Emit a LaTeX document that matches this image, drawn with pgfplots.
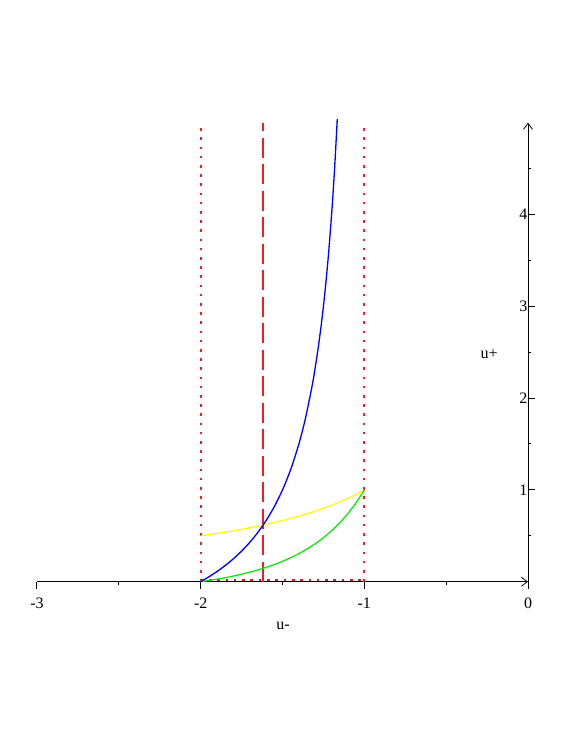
\documentclass[border=0pt]{standalone}
\usepackage{pgfplots}
\pgfplotsset{compat=1.18}
\usepackage{fontspec}
\setmainfont{Liberation Serif}
\usetikzlibrary{arrows.meta}
\definecolor{mblue}{RGB}{0,0,255}
\definecolor{myellow}{RGB}{255,255,0}
\definecolor{mgreen}{RGB}{0,235,0}
\definecolor{mred}{RGB}{240,30,30}
\definecolor{mbrown}{RGB}{190,40,40}
\begin{document}
\begin{tikzpicture}[font=\fontsize{16}{19}\selectfont]
\begin{axis}[
  scale only axis,
  width=491pt, height=459pt,
  xmin=-3, xmax=0, ymin=0, ymax=5,
  axis lines=middle,
  hide obscured x ticks=false,
  hide obscured y ticks=false,
  axis line style={line width=1pt},
  x axis line style={-{Straight Barb[length=6pt,width=9pt,line width=0.8pt]}},
  y axis line style={-{Straight Barb[length=6pt,width=9pt,line width=0.8pt]}},
  xtick={-3,-2,-1,0},
  xticklabels={-3,-2,-1,0},
  minor xtick={-2.5,-1.5,-0.5},
  ytick={1,2,3,4},
  minor ytick={0.5,1.5,2.5,3.5,4.5},
  xtick align=outside,
  ytick align=inside,
  major tick length=7pt,
  minor tick length=3pt,
  tick style={line width=1pt, black},
  /pgf/number format/assume math mode=true,
  xticklabel style={yshift=-6pt},
  yticklabel style={xshift=3pt},
  clip=false,
]
\coordinate (SW) at (rel axis cs:0,0);
% vertical reference lines
\addplot[mred, line width=1.8pt, dash pattern=on 2.6pt off 6.6pt] coordinates {(-2,0) (-2,4.95)};
\addplot[mred, line width=1.8pt, dash pattern=on 2.6pt off 6.6pt] coordinates {(-1,0) (-1,4.95)};
\addplot[mred, line width=2pt, dash pattern=on 20pt off 6.5pt] coordinates {(-1.618,0) (-1.618,5)};
\addplot[mbrown, line width=1.6pt, dash pattern=on 2.6pt off 5.7pt] coordinates {(-2,0.02) (-1,0.02)};
% yellow
\addplot[myellow, line width=1.2pt, smooth] coordinates {
(-2,0.5) (-1.95,0.51282) (-1.9,0.52632) (-1.85,0.54054) (-1.8,0.55556)
(-1.75,0.57143) (-1.7,0.58824) (-1.65,0.60606) (-1.6,0.625) (-1.55,0.64516)
(-1.5,0.66667) (-1.45,0.68966) (-1.4,0.71429) (-1.35,0.74074) (-1.3,0.76923)
(-1.25,0.8) (-1.2,0.83333) (-1.15,0.86957) (-1.1,0.90909) (-1.05,0.95238) (-1,1)};
% green
\addplot[mgreen, line width=1.2pt, smooth] coordinates {
(-2,0) (-1.95,0.01315) (-1.9,0.0277) (-1.85,0.04383) (-1.8,0.06173)
(-1.75,0.08163) (-1.7,0.10381) (-1.65,0.12856) (-1.6,0.15625) (-1.55,0.1873)
(-1.5,0.22222) (-1.45,0.26159) (-1.4,0.30612) (-1.35,0.35665) (-1.3,0.4142)
(-1.25,0.48) (-1.2,0.55556) (-1.15,0.64272) (-1.1,0.7438) (-1.05,0.86168) (-1,1)};
% blue
\addplot[mblue, line width=1.3pt, smooth] coordinates {
(-2,0) (-1.95,0.05263) (-1.9,0.11111) (-1.85,0.17647) (-1.8,0.25)
(-1.75,0.33333) (-1.7,0.42857) (-1.65,0.53846) (-1.6,0.66667) (-1.55,0.81818)
(-1.5,1) (-1.45,1.22222) (-1.4,1.5) (-1.36,1.77778) (-1.32,2.125)
(-1.3,2.33333) (-1.28,2.57143) (-1.26,2.84615) (-1.24,3.16667) (-1.22,3.54545)
(-1.2,4) (-1.19,4.26316) (-1.18,4.55556) (-1.17,4.88235) (-1.1654,5.04)};
\node at (rel axis cs:0.501,0) [yshift=-44pt] {u-};
\node at (rel axis cs:0.921,0.496) {u+};
\end{axis}
\pgfresetboundingbox
\path (SW) ++(-37pt,-170.3pt) rectangle ++(581pt,752pt);
\end{tikzpicture}
\end{document}
